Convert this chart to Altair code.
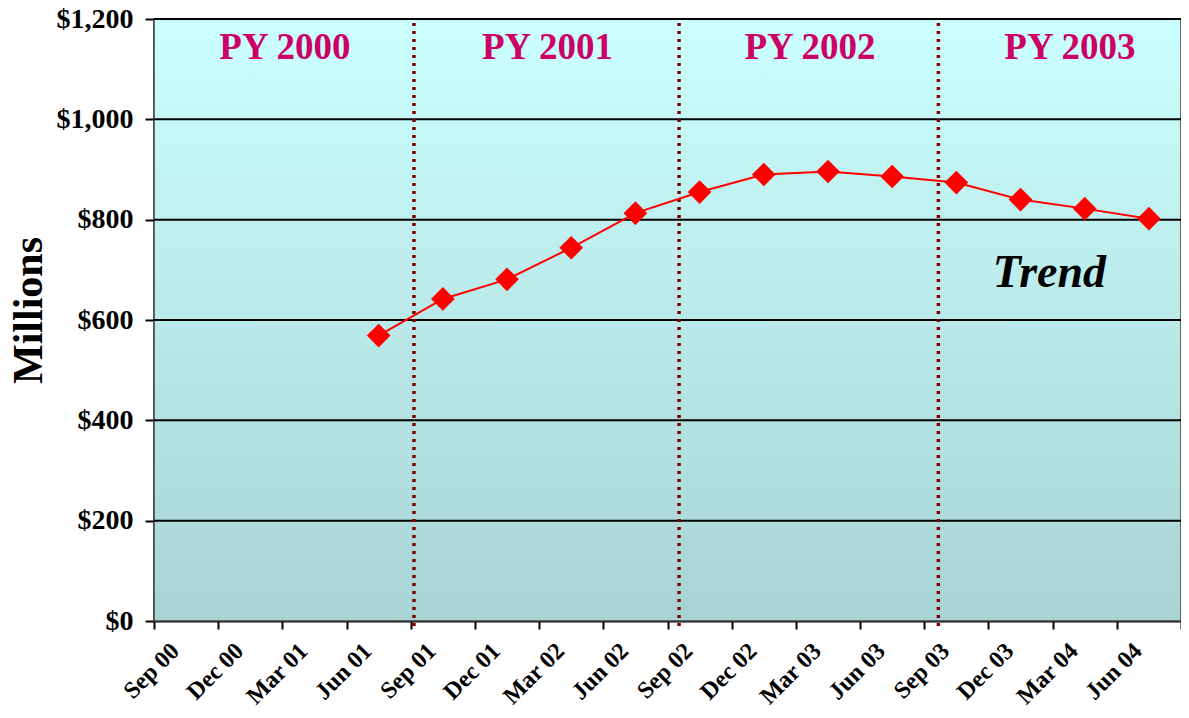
import altair as alt
import pandas as pd

# ---------------- data ----------------
quarters = ["Sep 00", "Dec 00", "Mar 01", "Jun 01", "Sep 01", "Dec 01", "Mar 02", "Jun 02",
            "Sep 02", "Dec 02", "Mar 03", "Jun 03", "Sep 03", "Dec 03", "Mar 04", "Jun 04"]
trend_quarters = ["Jun 01", "Sep 01", "Dec 01", "Mar 02", "Jun 02", "Sep 02", "Dec 02",
                  "Mar 03", "Jun 03", "Sep 03", "Dec 03", "Mar 04", "Jun 04"]
trend_values = [569, 642, 681, 744, 813, 855, 890, 896, 886, 874, 840, 822, 802]

y_ticks = [0, 200, 400, 600, 800, 1000, 1200]
grid_values = [200, 400, 600, 800, 1000, 1200]

# program-year dividers, in quarter-band units (0 = left edge, 16 = right edge)
divider_positions = [4.05, 8.18, 12.22]

py_labels = ["PY 2000", "PY 2001", "PY 2002", "PY 2003"]
py_label_x = [2.04, 6.13, 10.22, 14.27]
py_label_y = [1120, 1120, 1120, 1120]

note_text = ["Trend"]
note_x = [13.95]
note_y = [666]

# ---------------- chart ----------------
W, H = 1027, 602
FONT = "Liberation Serif"

yscale = alt.Scale(domain=[0, 1200], nice=False, zero=True)
yaxis = alt.Axis(values=y_ticks, format="$,.0f", title="Millions", grid=False,
                 labelFont=FONT, labelFontSize=28, labelFontWeight="bold", labelColor="black",
                 labelPadding=12, tickSize=9, tickWidth=2, tickColor="black",
                 domainColor="black", domainWidth=2,
                 titleFont=FONT, titleFontSize=42, titleFontWeight="bold", titleColor="black",
                 titleAngle=270, titleAlign="center", titleBaseline="alphabetic",
                 titleX=-113, titleY=291)

xq_scale = alt.Scale(domain=[0, 16], nice=False, zero=False)
xband_scale = alt.Scale(type="band", domain=quarters, paddingInner=0, paddingOuter=0)

background = alt.Chart(alt.Data(values=[{}])).mark_rect(
    color={"gradient": "linear", "x1": 0, "x2": 0, "y1": 0, "y2": 1,
           "stops": [{"offset": 0, "color": "#CCFFFF"}, {"offset": 1, "color": "#A8D3D3"}]},
    stroke="#404040", strokeWidth=1.5,
).encode(x=alt.value(0), x2=alt.value(W), y=alt.value(0), y2=alt.value(H))

grid = alt.Chart(pd.DataFrame({"g": grid_values})).mark_rule(
    color="black", strokeWidth=2
).encode(y=alt.Y("g:Q", scale=yscale, axis=yaxis))

dividers = alt.Chart(pd.DataFrame({"d": divider_positions})).mark_rule(
    color="#800000", strokeWidth=3.5, strokeDash=[3, 5]
).encode(x=alt.X("d:Q", scale=xq_scale, axis=None),
         y=alt.value(4), y2=alt.value(H + 6))

trend_df = pd.DataFrame({"q": trend_quarters, "v": trend_values})

line = alt.Chart(trend_df).mark_line(color="#FF0000", strokeWidth=2).encode(
    x=alt.X("q:N", scale=xband_scale, sort=quarters, bandPosition=0.5, axis=None),
    y=alt.Y("v:Q", scale=yscale, axis=yaxis),
)

xaxis = alt.Axis(title=None, grid=False, tickBand="extent", tickExtra=True,
                 labelAngle=-45, labelAlign="right", labelBaseline="middle",
                 labelFont=FONT, labelFontSize=24, labelFontWeight="bold", labelColor="black",
                 labelPadding=18, labelOffset=-11, labelOverlap=False,
                 tickSize=8, tickWidth=2, tickColor="black",
                 domainColor="black", domainWidth=2)

points = alt.Chart(trend_df).mark_point(
    shape="diamond", filled=True, size=560, color="#FF0000", opacity=1
).encode(
    x=alt.X("q:N", scale=xband_scale, sort=quarters, bandPosition=0.5, axis=xaxis),
    y=alt.Y("v:Q", scale=yscale, axis=yaxis),
)

py_text = alt.Chart(pd.DataFrame({"t": py_labels, "x": py_label_x, "y": py_label_y})).mark_text(
    font=FONT, fontSize=37, fontWeight="bold", color="#CC0066", align="center", baseline="alphabetic"
).encode(x=alt.X("x:Q", scale=xq_scale, axis=None),
         y=alt.Y("y:Q", scale=yscale, axis=yaxis), text="t:N")

note = alt.Chart(pd.DataFrame({"t": note_text, "x": note_x, "y": note_y})).mark_text(
    font=FONT, fontSize=46, fontWeight="bold", fontStyle="italic", color="black",
    align="center", baseline="alphabetic"
).encode(x=alt.X("x:Q", scale=xq_scale, axis=None),
         y=alt.Y("y:Q", scale=yscale, axis=yaxis), text="t:N")

chart = alt.layer(background, grid, dividers, line, points, py_text, note).resolve_scale(
    x="independent"
).properties(
    width=W, height=H,
    padding={"left": 146, "top": 11, "right": 0, "bottom": 87},
    autosize=alt.AutoSizeParams(type="none"),
    background="white",
).configure_view(stroke=None)

chart.save("out.html", embed_options={"renderer": "svg", "actions": False})
